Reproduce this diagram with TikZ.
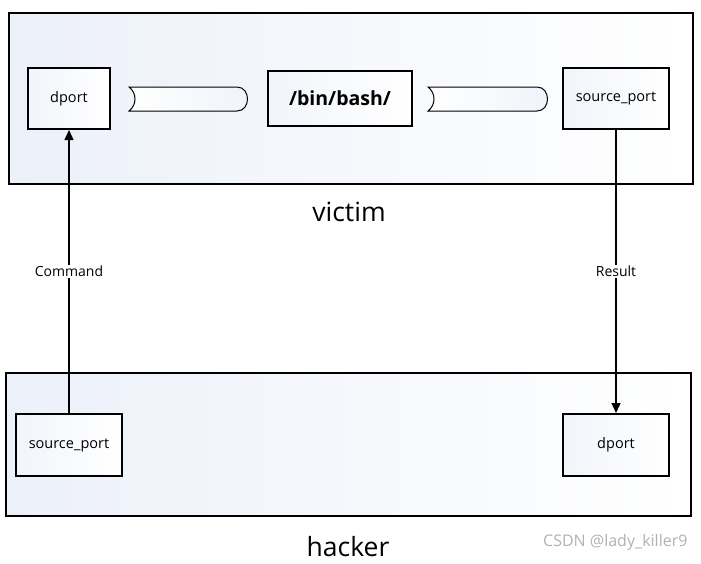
\documentclass[tikz,border=0pt]{standalone}
\usepackage{fontspec}
\setmainfont{Open Sans}
\usetikzlibrary{arrows.meta}
\definecolor{tint}{RGB}{236,240,249}
\begin{document}
\begin{tikzpicture}[x=1pt,y=-1pt,
  frame/.style={draw=black,line width=2pt,left color=tint,right color=white,inner sep=0pt},
  portbox/.style={draw=black,line width=2pt,left color=tint!70!white,right color=white,inner sep=0pt,font=\fontsize{14.5}{17}\selectfont},
  pipe/.style={draw=black,line width=1pt,left color=white,right color=tint!80!white},
  lbl/.style={font=\fontsize{26.5}{31}\selectfont},
  edgelbl/.style={fill=white,inner sep=1.5pt,font=\fontsize{14}{17}\selectfont},
  flow/.style={line width=1.3pt,-{Triangle[length=10pt,width=9pt]}}]
\useasboundingbox (0,0) rectangle (701,563);
\fill[white] (0,0) rectangle (701,563);
% outer frames
\node[frame,minimum width=684,minimum height=171] (victim) at (351,98.5) {};
\node[frame,minimum width=685,minimum height=143] (hacker) at (348.5,444.5) {};
% victim side
\node[portbox,minimum width=82,minimum height=61] (vdport) at (69,98.5) {dport};
\node[portbox,minimum width=144,minimum height=55,font=\fontsize{19.5}{23}\selectfont\bfseries] (bash) at (340,98.5) {/bin/bash/};
\node[portbox,minimum width=106,minimum height=61] (vsrc) at (616,98.5) {source\_port};
% pipes
\path[pipe] (129,87) -- (237,87) .. controls (251,87) and (251,111) .. (237,111) -- (129,111) .. controls (137,105) and (137,93) .. (129,87) -- cycle;
\path[pipe] (428,87) -- (537,87) .. controls (551,87) and (551,111) .. (537,111) -- (428,111) .. controls (436,105) and (436,93) .. (428,87) -- cycle;
% hacker side
\node[portbox,minimum width=106,minimum height=62] (hsrc) at (69,445) {source\_port};
\node[portbox,minimum width=106,minimum height=62] (hdport) at (616,445) {dport};
% labels
\node[lbl] (vlabel) at (349,212) {victim};
\node[lbl] (hlabel) at (348,547) {hacker};
% connectors
\draw[flow] (hsrc.north) -- node[edgelbl] (cmd) {Command} (vdport.south);
\draw[flow] (vsrc.south) -- node[edgelbl] (res) {Result} (hdport.north);
% watermark
\node[text=black!30,font=\fontsize{16}{19}\selectfont,anchor=east] (wm) at (691,542) {CSDN @lady\_killer9};
\end{tikzpicture}
\end{document}
